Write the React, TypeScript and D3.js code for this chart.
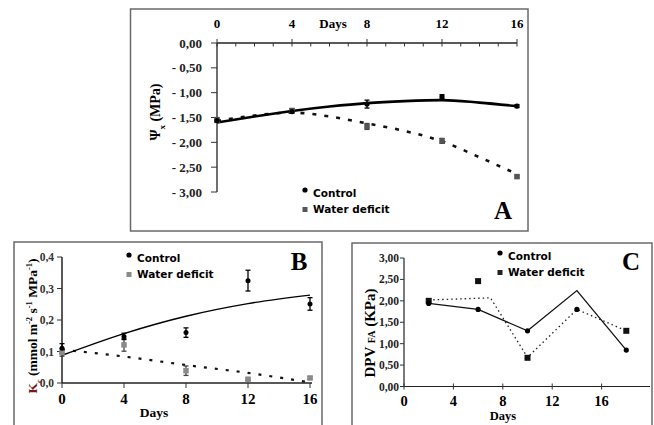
import React, { useEffect, useRef } from 'react';
import * as d3 from 'd3';

const days = [0, 4, 8, 12, 16];
const fitDays = [0, 2, 4, 6, 8, 10, 12, 14, 16];

// panel A - leaf water potential (MPa)
const aControl = [-1.56, -1.38, -1.23, -1.08, -1.27];
const aControlErr = [0.03, 0.03, 0.08, 0.04, 0.03];
const aDeficit = [-1.55, -1.36, -1.68, -1.97, -2.69];
const aDeficitErr = [0.05, 0.04, 0.06, 0.05, 0.02];
const aControlFit = [-1.6, -1.48, -1.37, -1.28, -1.21, -1.17, -1.15, -1.2, -1.27];
const aDeficitFit = [-1.57, -1.46, -1.4, -1.48, -1.62, -1.77, -1.98, -2.3, -2.64];
const aTicksY = [0, -0.5, -1, -1.5, -2, -2.5, -3];

// panel B - hydraulic conductance
const bControl = [0.11, 0.148, 0.16, 0.325, 0.251];
const bControlErr = [0.015, 0.01, 0.015, 0.033, 0.02];
const bDeficit = [0.097, 0.121, 0.039, 0.012, 0.016];
const bDeficitErr = [0.012, 0.02, 0.015, 0.004, 0.004];
const bControlFit = [0.088, 0.157, 0.212, 0.252, 0.279];
const bDeficitFit = [0.106, 0.084, 0.057, 0.032, 0.002];
const bTicksY = [0, 0.1, 0.2, 0.3, 0.4];

// panel C - DPV
const cDays = [2, 6, 10, 14, 18];
const cControl = [1.94, 1.8, 1.3, 1.8, 0.85];
const cDeficitDays = [2, 6, 10, 18];
const cDeficit = [2.0, 2.46, 0.67, 1.3];
const cControlLine = [1.94, 1.8, 1.3, 2.24, 0.85];
const cDeficitLineDays = [2, 7, 10, 14, 18];
const cDeficitLine = [2.02, 2.07, 0.68, 1.8, 1.3];
const cTicksX = [0, 4, 8, 12, 16];
const cTicksY = [0, 0.5, 1, 1.5, 2, 2.5, 3];

const serif = '"Liberation Serif", "Times New Roman", serif';
const sans = '"DejaVu Sans", Verdana, sans-serif';

const comma = (f: string) => (v: number) => d3.format(f)(v).replace('.', ',');

const App = () => {
    const ref = useRef<SVGSVGElement>(null);

    useEffect(() => {
        const svg = d3.select(ref.current);
        svg.selectAll('*').remove();
        svg.append('rect').attr('width', 654).attr('height', 425).attr('fill', '#fff');

        const frame = (x: number, y: number, w: number, h: number) =>
            svg.append('rect').attr('x', x).attr('y', y).attr('width', w).attr('height', h)
                .attr('fill', 'none').attr('stroke', '#6a6a6a').attr('stroke-width', 1.5);

        const errBars = (g: any, xs: number[], ys: number[], es: number[], x: any, y: any, color: string) => {
            xs.forEach((d, i) => {
                const cx = x(d);
                const y1 = y(ys[i] - es[i]);
                const y2 = y(ys[i] + es[i]);
                g.append('line').attr('x1', cx).attr('x2', cx).attr('y1', y1).attr('y2', y2)
                    .attr('stroke', color).attr('stroke-width', 1.3);
                [y1, y2].forEach((yy) => g.append('line').attr('x1', cx - 2.5).attr('x2', cx + 2.5)
                    .attr('y1', yy).attr('y2', yy).attr('stroke', color).attr('stroke-width', 1.3));
            });
        };

        const dots = (g: any, xs: number[], ys: number[], x: any, y: any, r: number) => {
            xs.forEach((d, i) => g.append('circle').attr('cx', x(d)).attr('cy', y(ys[i])).attr('r', r).attr('fill', '#000'));
        };
        const squares = (g: any, xs: number[], ys: number[], x: any, y: any, s: number, color: string) => {
            xs.forEach((d, i) => g.append('rect').attr('x', x(d) - s / 2).attr('y', y(ys[i]) - s / 2)
                .attr('width', s).attr('height', s).attr('fill', color));
        };

        const legend = (lx: number, ly: number, sqColor: string) => {
            svg.append('circle').attr('cx', lx).attr('cy', ly - 7).attr('r', 2.6).attr('fill', '#000');
            svg.append('text').attr('x', lx + 8).attr('y', ly).text('Control')
                .style('font-family', sans).style('font-weight', '700').style('font-size', '10.5px');
            svg.append('rect').attr('x', lx - 2.5).attr('y', ly + 10).attr('width', 5).attr('height', 5).attr('fill', sqColor);
            svg.append('text').attr('x', lx + 8).attr('y', ly + 15.5).text('Water deficit')
                .style('font-family', sans).style('font-weight', '700').style('font-size', '10.5px');
        };

        const bigLetter = (t: string, x: number, y: number) =>
            svg.append('text').attr('x', x).attr('y', y).attr('text-anchor', 'middle').text(t)
                .style('font-family', serif).style('font-weight', '700').style('font-size', '25px');

        // ---------- A ----------
        frame(130.5, 9, 397.5, 222);
        const xA = d3.scaleLinear().domain([0, 16]).range([217, 517]);
        const yA = d3.scaleLinear().domain([0, -3]).range([43, 192]);
        const gA = svg.append('g');
        gA.append('line').attr('x1', xA(0)).attr('x2', xA(16)).attr('y1', yA(0)).attr('y2', yA(0)).attr('stroke', '#222').attr('stroke-width', 1.3);
        gA.append('line').attr('x1', xA(0)).attr('x2', xA(0)).attr('y1', yA(0)).attr('y2', yA(-3)).attr('stroke', '#222').attr('stroke-width', 1.3);
        d3.range(0, 17).forEach((d) => {
            const major = d % 4 === 0;
            gA.append('line').attr('x1', xA(d)).attr('x2', xA(d)).attr('y1', major ? yA(0) - 4 : yA(0))
                .attr('y2', yA(0) + 3.5).attr('stroke', '#333').attr('stroke-width', 1);
        });
        days.forEach((d) => gA.append('text').attr('x', xA(d)).attr('y', 28).attr('text-anchor', 'middle').text(d)
            .style('font-family', serif).style('font-weight', '700').style('font-size', '13px'));
        gA.append('text').attr('x', 333).attr('y', 28).attr('text-anchor', 'middle').text('Days')
            .style('font-family', serif).style('font-weight', '700').style('font-size', '13px');
        aTicksY.forEach((v) => {
            gA.append('line').attr('x1', xA(0) - 6).attr('x2', xA(0)).attr('y1', yA(v)).attr('y2', yA(v)).attr('stroke', '#333');
            gA.append('text').attr('x', 202).attr('y', yA(v) + 4.5).attr('text-anchor', 'end')
                .text(v === 0 ? '0,00' : '- ' + comma('.2f')(-v))
                .style('font-family', serif).style('font-weight', '700').style('font-size', '13px').style('fill', '#222');
        });
        const yLabA = gA.append('text').attr('transform', 'translate(160,112) rotate(-90)').attr('text-anchor', 'middle')
            .style('font-family', serif).style('font-weight', '700').style('font-size', '14px');
        yLabA.append('tspan').text('Ψ');
        yLabA.append('tspan').attr('baseline-shift', 'sub').style('font-size', '9px').text('x');
        yLabA.append('tspan').text(' (MPa)');

        const lineA = d3.line<number>().x((d, i) => xA(fitDays[i])).y((d) => yA(d)).curve(d3.curveMonotoneX);
        gA.append('path').attr('d', lineA(aDeficitFit)).attr('fill', 'none').attr('stroke', '#111')
            .attr('stroke-width', 2.6).attr('stroke-dasharray', '4,8');
        gA.append('path').attr('d', lineA(aControlFit)).attr('fill', 'none').attr('stroke', '#000').attr('stroke-width', 2.6);
        errBars(gA, days, aDeficit, aDeficitErr, xA, yA, '#444');
        errBars(gA, days, aControl, aControlErr, xA, yA, '#000');
        squares(gA, days, aDeficit, xA, yA, 5.5, '#555');
        dots(gA, days, aControl, xA, yA, 2.6);
        legend(305, 197, '#555');
        bigLetter('A', 503, 219);

        // ---------- B ----------
        frame(14, 242, 308, 190);
        const xB = d3.scaleLinear().domain([0, 16]).range([62, 310]);
        const yB = d3.scaleLinear().domain([0, 0.4]).range([383, 257]);
        const gB = svg.append('g');
        gB.append('line').attr('x1', xB(0)).attr('x2', 312).attr('y1', yB(0)).attr('y2', yB(0)).attr('stroke', '#222').attr('stroke-width', 1.3);
        gB.append('line').attr('x1', xB(0)).attr('x2', xB(0)).attr('y1', yB(0)).attr('y2', yB(0.4)).attr('stroke', '#222').attr('stroke-width', 1.5);
        bTicksY.forEach((v) => {
            gB.append('line').attr('x1', xB(0) - 5).attr('x2', xB(0)).attr('y1', yB(v)).attr('y2', yB(v)).attr('stroke', '#333');
            gB.append('text').attr('x', 54).attr('y', yB(v) + 4).attr('text-anchor', 'end').text(comma('.1f')(v))
                .style('font-family', serif).style('font-weight', '700').style('font-size', '11.5px').style('fill', '#333');
        });
        days.forEach((d) => {
            gB.append('line').attr('x1', xB(d)).attr('x2', xB(d)).attr('y1', yB(0)).attr('y2', yB(0) + 5).attr('stroke', '#333');
            gB.append('text').attr('x', xB(d)).attr('y', 404).attr('text-anchor', 'middle').text(d)
                .style('font-family', serif).style('font-weight', '700').style('font-size', '15px');
        });
        gB.append('text').attr('x', 154).attr('y', 417).attr('text-anchor', 'middle').text('Days')
            .style('font-family', serif).style('font-weight', '700').style('font-size', '13.5px');
        const yLabB = gB.append('text').attr('transform', 'translate(37,326) rotate(-90)').attr('text-anchor', 'middle')
            .style('font-family', serif).style('font-weight', '700').style('font-size', '13.5px');
        yLabB.append('tspan').style('fill', '#7a1b1b').text('K');
        yLabB.append('tspan').attr('baseline-shift', 'sub').style('fill', '#7a1b1b').style('font-size', '8px').text('c');
        yLabB.append('tspan').text(' (mmol m');
        yLabB.append('tspan').attr('baseline-shift', 'super').style('font-size', '8.5px').text('-2');
        yLabB.append('tspan').text(' s');
        yLabB.append('tspan').attr('baseline-shift', 'super').style('font-size', '8.5px').text('-1');
        yLabB.append('tspan').text(' MPa');
        yLabB.append('tspan').attr('baseline-shift', 'super').style('font-size', '8.5px').text('-1');
        yLabB.append('tspan').text(')');

        const lineB = d3.line<number>().x((d, i) => xB(days[i])).y((d) => yB(d)).curve(d3.curveMonotoneX);
        gB.append('path').attr('d', lineB(bDeficitFit)).attr('fill', 'none').attr('stroke', '#111')
            .attr('stroke-width', 2.2).attr('stroke-dasharray', '3,8');
        gB.append('path').attr('d', lineB(bControlFit)).attr('fill', 'none').attr('stroke', '#000').attr('stroke-width', 1.4);
        errBars(gB, days, bDeficit, bDeficitErr, xB, yB, '#444');
        errBars(gB, days, bControl, bControlErr, xB, yB, '#000');
        squares(gB, days, bDeficit, xB, yB, 5.5, '#8a8a8a');
        dots(gB, days, bControl, xB, yB, 2.5);
        legend(129, 262, '#8a8a8a');
        bigLetter('B', 299, 270);

        // ---------- C ----------
        frame(352, 243, 300, 190);
        const xC = d3.scaleLinear().domain([0, 20]).range([404, 651]);
        const yC = d3.scaleLinear().domain([0, 3]).range([386.5, 258]);
        const gC = svg.append('g');
        gC.append('line').attr('x1', xC(0)).attr('x2', 650).attr('y1', yC(0)).attr('y2', yC(0)).attr('stroke', '#222').attr('stroke-width', 1.2);
        gC.append('line').attr('x1', xC(0)).attr('x2', xC(0)).attr('y1', yC(0)).attr('y2', yC(3)).attr('stroke', '#222').attr('stroke-width', 1.2);
        cTicksY.forEach((v) => {
            gC.append('line').attr('x1', xC(0) - 4).attr('x2', xC(0)).attr('y1', yC(v)).attr('y2', yC(v)).attr('stroke', '#333');
            gC.append('text').attr('x', 399).attr('y', yC(v) + 4).attr('text-anchor', 'end').text(comma('.2f')(v))
                .style('font-family', serif).style('font-weight', '700').style('font-size', '11.5px').style('fill', '#222');
        });
        cTicksX.forEach((d) => {
            gC.append('line').attr('x1', xC(d)).attr('x2', xC(d)).attr('y1', yC(0) - 3).attr('y2', yC(0) + 3).attr('stroke', '#333');
            gC.append('text').attr('x', xC(d)).attr('y', 406).attr('text-anchor', 'middle').text(d)
                .style('font-family', serif).style('font-weight', '700').style('font-size', '14.5px');
        });
        gC.append('text').attr('x', 503).attr('y', 420).attr('text-anchor', 'middle').text('Days')
            .style('font-family', serif).style('font-weight', '700').style('font-size', '12.5px');
        const yLabC = gC.append('text').attr('transform', 'translate(375,333) rotate(-90)').attr('text-anchor', 'middle')
            .style('font-family', serif).style('font-weight', '700').style('font-size', '15px');
        yLabC.append('tspan').text('DPV ');
        yLabC.append('tspan').style('font-size', '10px').text('FA');
        yLabC.append('tspan').text(' (KPa)');

        const lineC = d3.line<number>().x((d) => xC(d[0])).y((d) => yC(d[1]));
        gC.append('path').attr('d', lineC(cDeficitLineDays.map((d, i) => [d, cDeficitLine[i]]) as any))
            .attr('fill', 'none').attr('stroke', '#222').attr('stroke-width', 1.3).attr('stroke-dasharray', '1.5,3');
        gC.append('path').attr('d', lineC(cDays.map((d, i) => [d, cControlLine[i]]) as any))
            .attr('fill', 'none').attr('stroke', '#111').attr('stroke-width', 1.3);
        squares(gC, cDeficitDays, cDeficit, xC, yC, 6, '#111');
        dots(gC, cDays, cControl, xC, yC, 2.6);
        legend(500, 260, '#222');
        bigLetter('C', 631, 270);
    }, []);

    return (
        <div style={{ position: 'absolute', left: 0, top: 0 }}>
            <svg ref={ref} width={654} height={425}></svg>
        </div>
    );
};

export default App;
